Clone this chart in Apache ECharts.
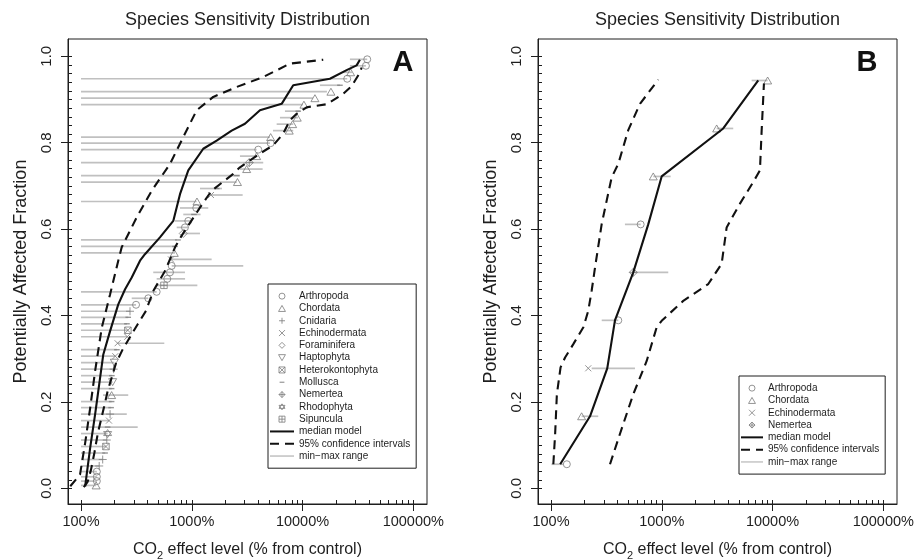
<!DOCTYPE html>
<html><head><meta charset="utf-8">
<script src="https://cdn.jsdelivr.net/npm/echarts@6/dist/echarts.min.js"></script>
<style>html,body{margin:0;padding:0;background:#fff}#c{width:924px;height:560px}</style>
</head><body><div id="c"></div>
<script>
// ---------------- data ----------------
const xTickValues = [100, 1000, 10000, 100000];
const xTickLabels = ['100%', '1000%', '10000%', '100000%'];
const yTickValues = [0, 0.2, 0.4, 0.6, 0.8, 1.0];
const yTickLabels = ['0.0', '0.2', '0.4', '0.6', '0.8', '1.0'];

const phylumCodes = ['Art','Cho','Cni','Ech','For','Hap','Het','Mol','Nem','Rho','Sip'];
const phylumNames = ['Arthropoda','Chordata','Cnidaria','Echinodermata','Foraminifera','Haptophyta','Heterokontophyta','Mollusca','Nemertea','Rhodophyta','Sipuncula'];

// Panel A : species points (effect level %, affected fraction, phylum, min %, max %)
const aEffect = [137,139,139,139,146,157,165,168,171,174,
  174,179,183,187,189,189,189,193,190,197,
  200,204,211,214,262,265,260,267,277,314,
  405,482,561,601,636,659,649,695,706,751,
  838,868,930,1047,1098,1114,1491,1678,2585,2543,
  3130,3304,3853,3983,5154,5154,7586,8140,8958,9147,
  10294,12940,18046,21759,25322,27168,37345,38369];
const aFraction = [0.007,0.017,0.027,0.039,0.052,0.067,0.082,0.097,0.112,0.127,
  0.142,0.157,0.172,0.187,0.201,0.216,0.231,0.246,0.261,0.276,
  0.291,0.306,0.321,0.336,0.351,0.366,0.381,0.396,0.410,0.425,
  0.440,0.455,0.470,0.485,0.500,0.515,0.530,0.545,0.560,0.575,
  0.590,0.604,0.619,0.634,0.649,0.664,0.679,0.694,0.709,0.724,
  0.739,0.754,0.769,0.784,0.799,0.813,0.828,0.843,0.858,0.873,
  0.888,0.903,0.918,0.933,0.948,0.963,0.978,0.993];
const aPhylum = ['Cho','Art','Art','Art','Cni','Cni','Mol','Het','Cni','Rho',
  'Mol','Ech','Cni','Mol','Mol','Cho','Mol','Hap','Mol','Cni',
  'Hap','Ech','Mol','Ech','Ech','Het','Mol','Mol','Cni','Art',
  'Art','Art','Sip','Art','Art','Art','Ech','Cho','Mol','Mol',
  'For','Art','Art','Mol','Art','Cho','Ech','Mol','Cho','Mol',
  'Cho','Nem','Cho','Art','Art','Cho','Cho','Cho','Cho','Mol',
  'Cho','Cho','Cho','Mol','Art','Cho','Art','Art'];
const aMin = [100,100,100,100,100,100,100,100,100,100,
  100,100,100,100,100,158,100,100,100,100,
  100,100,100,214,100,100,100,100,100,100,
  287,100,482,482,449,659,649,100,100,100,
  838,731,706,838,783,100,1512,1186,100,100,
  2723,100,2723,100,100,100,5407,5840,6252,6938,
  100,100,100,14355,100,23148,26776,26776];
const aMax = [137,139,139,139,146,157,165,168,171,174,
  325,179,259,187,189,267,189,193,190,197,
  200,204,211,565,262,265,260,267,277,314,
  405,482,1123,870,868,2916,1512,706,706,731,
  1186,930,1000,1200,1409,1107,2880,1873,2543,2723,
  4363,4418,3853,3853,5080,5080,8242,8242,9090,9474,
  10083,12413,16608,21759,25322,27916,37345,38369];

// Panel A : model curves
const aMedianEffect = [109,121,134,146,159,183,217,250,287,341,378,516,681,783,930,1270,1678,2291,3021,4126,6478,8242,17675,25000,30780,32960];
const aMedianFraction = [0.005,0.094,0.171,0.241,0.310,0.364,0.426,0.461,0.488,0.527,0.542,0.581,0.619,0.681,0.736,0.786,0.805,0.828,0.844,0.875,0.890,0.933,0.948,0.968,0.979,0.992];
const aCiLowEffect = [80,98,109,121,134,154,183,217,233,318,435,636,838,1107,1563,2543,4418,7696,15377];
const aCiLowFraction = [0.005,0.032,0.105,0.186,0.271,0.372,0.449,0.527,0.558,0.627,0.689,0.751,0.813,0.875,0.906,0.929,0.952,0.983,0.992];
const aCiHighEffect = [106,115,123,132,142,162,174,207,238,325,386,449,573,706,811,1186,1512,2369,2723,4126,5439,6695,7696,8847,10890,16500,23300,27730,32960,34160];
const aCiHighFraction = [0.003,0.016,0.043,0.082,0.128,0.190,0.225,0.290,0.322,0.380,0.411,0.457,0.503,0.558,0.585,0.650,0.689,0.728,0.743,0.775,0.794,0.821,0.852,0.867,0.882,0.889,0.913,0.931,0.962,0.974];

// Panel B
const bEffect = [139,189,217,405,553,645,838,3130,9032];
const bFraction = [0.056,0.167,0.278,0.389,0.500,0.611,0.722,0.833,0.944];
const bPhylum = ['Art','Cho','Ech','Art','Nem','Art','Cho','Cho','Cho'];
const bMin = [101,189,233,287,553,465,838,3130,6478];
const bMax = [130,267,573,405,1145,645,1203,4418,9032];
const bMedianEffect = [121,225,322,378,553,755,998,3589,7430];
const bMedianFraction = [0.056,0.167,0.278,0.389,0.500,0.611,0.722,0.833,0.944];
const bCiLowEffect = [105,109,113,122,134,159,196,217,233,250,287,353,405,498,636,930];
const bCiLowFraction = [0.056,0.126,0.218,0.280,0.303,0.334,0.373,0.411,0.458,0.512,0.612,0.720,0.751,0.829,0.890,0.946];
const bCiHighEffect = [341,419,553,731,900,998,1563,2628,3472,3853,5080,6695,7696,7974,8363];
const bCiHighFraction = [0.056,0.126,0.218,0.295,0.373,0.388,0.434,0.473,0.520,0.604,0.659,0.709,0.736,0.828,0.937];

const legendA = ['Arthropoda','Chordata','Cnidaria','Echinodermata','Foraminifera','Haptophyta','Heterokontophyta','Mollusca','Nemertea','Rhodophyta','Sipuncula'];
const legendB = ['Arthropoda','Chordata','Echinodermata','Nemertea'];

// ---------------- styling ----------------
const FONT = '"Liberation Sans", Arial, Helvetica, sans-serif';
const INK = '#1e1e1e';
const POINT = '#7a7a7a';
const RANGE = '#c0c0c0';
const X_MIN = 1.8827, X_MAX = 5.1236;   // log10 extent of the plot box
const Y_MIN = -0.036, Y_MAX = 1.04;

const SYMBOLS = {
  Arthropoda: {path:'M0,5A5,5,0,1,1,10,5A5,5,0,1,1,0,5Z', fill:false, size:7},
  Chordata: {path:'M5,0L10,8.7L0,8.7Z', fill:false, size:8},
  Cnidaria: {path:'M5,0L5,10M0,5L10,5', fill:false, size:8},
  Echinodermata: {path:'M0,0L10,10M10,0L0,10', fill:false, size:6},
  Foraminifera: {path:'M5,0L10,5L5,10L0,5Z', fill:false, size:8},
  Haptophyta: {path:'M0,0L10,0L5,8.7Z', fill:false, size:8},
  Heterokontophyta: {path:'M0,0L10,0L10,10L0,10ZM0,0L10,10M10,0L0,10', fill:false, size:6.5},
  Mollusca: {path:'M0,0M10,10M1,4L9,4L9,6L1,6Z', fill:true, size:7},
  Nemertea: {path:'M5,0L10,5L5,10L0,5ZM5,0L5,10M0,5L10,5', fill:false, size:8},
  Rhodophyta: {path:'M5,0L10,7.5L0,7.5ZM5,10L0,2.5L10,2.5Z', fill:false, size:8},
  Sipuncula: {path:'M0,0L10,0L10,10L0,10ZM5,0L5,10M0,5L10,5', fill:false, size:6.5}
};

const log = Math.log10;
const xMinor = [];
for (let n = 2; n <= 4; n++) for (let k = 1; k <= 9; k++) xMinor.push(log(k * Math.pow(10, n)));
xMinor.push(5);
const yMinor = [];
for (let i = 0; i <= 50; i++) yMinor.push(+(i * 0.02).toFixed(2));

function xLabel(v) {
  for (let i = 0; i < xTickValues.length; i++) if (Math.abs(log(xTickValues[i]) - v) < 1e-6) return xTickLabels[i];
  return '';
}
function yLabel(v) {
  for (let i = 0; i < yTickValues.length; i++) if (Math.abs(yTickValues[i] - v) < 1e-6) return yTickLabels[i];
  return '';
}

const grids = [
  {left:68, top:39, width:359, height:465},
  {left:538, top:39, width:359, height:465}
].map(g => Object.assign(g, {show:true, borderColor:INK, borderWidth:1, backgroundColor:'transparent', containLabel:false, outerBoundsMode:'none'}));

const xAxes = [], yAxes = [];
[0, 1].forEach(gi => {
  xAxes.push({
    gridIndex:gi, type:'value', min:X_MIN, max:X_MAX, position:'bottom',
    axisLine:{show:true, onZero:false, lineStyle:{color:INK, width:1}},
    splitLine:{show:false},
    axisTick:{show:true, customValues:xTickValues.map(log), length:7, lineStyle:{color:INK, width:1}},
    axisLabel:{show:true, customValues:xTickValues.map(log), margin:10, fontSize:14.5, color:INK, fontFamily:FONT, formatter:xLabel},
    name:'{a|CO}{s|2}{a| effect level (% from control)}', nameLocation:'middle', nameGap:35,
    nameTextStyle:{color:INK, fontFamily:FONT, rich:{
      a:{fontSize:16, color:INK, fontFamily:FONT, lineHeight:22, verticalAlign:'middle'},
      s:{fontSize:11, color:INK, fontFamily:FONT, lineHeight:12, verticalAlign:'bottom'}}}
  });
  xAxes.push({
    gridIndex:gi, type:'value', min:X_MIN, max:X_MAX, position:'bottom',
    axisLine:{show:false, onZero:false}, splitLine:{show:false},
    axisTick:{show:true, inside:true, customValues:xMinor, length:4, lineStyle:{color:INK, width:1}},
    axisLabel:{show:false}
  });
  yAxes.push({
    gridIndex:gi, type:'value', min:Y_MIN, max:Y_MAX, position:'left',
    axisLine:{show:true, onZero:false, lineStyle:{color:INK, width:1}},
    splitLine:{show:false},
    axisTick:{show:true, customValues:yTickValues, length:7, lineStyle:{color:INK, width:1}},
    axisLabel:{show:true, customValues:yTickValues, rotate:90, margin:14, fontSize:15, color:INK, fontFamily:FONT, formatter:yLabel},
    name:'Potentially Affected Fraction', nameLocation:'middle', nameGap:38,
    nameTextStyle:{fontSize:18, color:INK, fontFamily:FONT}
  });
  yAxes.push({
    gridIndex:gi, type:'value', min:Y_MIN, max:Y_MAX, position:'left',
    axisLine:{show:false, onZero:false}, splitLine:{show:false},
    axisTick:{show:true, inside:true, customValues:yMinor, length:4, lineStyle:{color:INK, width:1}},
    axisLabel:{show:false}
  });
});

function rangeSeries(ax, fr, mins, maxs) {
  return {
    type:'custom', name:'min\u2212max range', xAxisIndex:ax, yAxisIndex:ax, z:1, silent:true,
    itemStyle:{color:RANGE},
    encode:{x:[0,1], y:2},
    data: fr.map((y, i) => [log(mins[i]), log(maxs[i]), y]),
    renderItem: (params, api) => {
      const p1 = api.coord([api.value(0), api.value(2)]);
      const p2 = api.coord([api.value(1), api.value(2)]);
      return {type:'line', shape:{x1:p1[0], y1:p1[1], x2:p2[0], y2:p2[1]}, style:{stroke:RANGE, lineWidth:1.7}};
    }
  };
}
function scatterSeries(ax, eff, fr, groups) {
  const out = [];
  phylumCodes.forEach((code, k) => {
    const name = phylumNames[k];
    const pts = [];
    eff.forEach((e, i) => { if (groups[i] === code) pts.push([log(e), fr[i]]); });
    if (!pts.length) return;
    const s = SYMBOLS[name];
    out.push({
      type:'scatter', name, xAxisIndex:ax, yAxisIndex:ax, z:2, silent:true,
      symbol:'path://' + s.path, symbolSize:s.size, symbolKeepAspect:true,
      itemStyle: s.fill ? {color:POINT, borderWidth:0} : {color:'transparent', borderColor:POINT, borderWidth:1},
      data: pts
    });
  });
  return out;
}
function curve(ax, name, eff, fr, dashed) {
  return {
    type:'line', name, xAxisIndex:ax, yAxisIndex:ax, z:3, silent:true, symbol:'none', clip:false,
    lineStyle:{color:'#111', width:2.1, type: dashed ? [9, 6] : 'solid'},
    itemStyle:{color:'transparent', borderColor:'transparent', borderWidth:0},
    data: eff.map((e, i) => [log(e), fr[i]])
  };
}

const series = [
  rangeSeries(0, aFraction, aMin, aMax),
  ...scatterSeries(0, aEffect, aFraction, aPhylum),
  curve(0, 'median model', aMedianEffect, aMedianFraction, false),
  curve(0, '95% confidence intervals', aCiLowEffect, aCiLowFraction, true),
  curve(0, '95% confidence intervals', aCiHighEffect, aCiHighFraction, true),
  rangeSeries(2, bFraction, bMin, bMax),
  ...scatterSeries(2, bEffect, bFraction, bPhylum),
  curve(2, 'median model', bMedianEffect, bMedianFraction, false),
  curve(2, '95% confidence intervals', bCiLowEffect, bCiLowFraction, true),
  curve(2, '95% confidence intervals', bCiHighEffect, bCiHighFraction, true)
];

const hiddenSymbol = {color:'transparent', borderColor:'transparent', borderWidth:0};
function legendCfg(left, top, names, iconW) {
  return {
    orient:'vertical', left, top, padding:[6, 6, 6, 1], itemGap:0, itemWidth:iconW, itemHeight:6,
    borderColor:INK, borderWidth:1, borderRadius:0, backgroundColor:'#fff', selectedMode:false,
    symbolKeepAspect:true, itemStyle:{borderWidth:1},
    textStyle:{fontSize:10, lineHeight:12.3, color:INK, fontFamily:FONT, padding:[0,0,0,0]},
    data: [...names,
      {name:'median model', itemStyle:hiddenSymbol},
      {name:'95% confidence intervals', itemStyle:hiddenSymbol},
      {name:'min\u2212max range', icon:'path://M0,0L24,0L24,1.5L0,1.5Z'}]
  };
}

const option = {
  animation:false,
  backgroundColor:'#fff',
  grid: grids,
  xAxis: xAxes,
  yAxis: yAxes,
  legend: [legendCfg(268, 284, legendA, 24), legendCfg(739, 376, legendB, 22)],
  graphic: [
    {type:'text', x:247.5, y:20, style:{text:'Species Sensitivity Distribution', fontSize:18, fontFamily:FONT, fill:INK, align:'center', verticalAlign:'middle'}},
    {type:'text', x:717.5, y:20, style:{text:'Species Sensitivity Distribution', fontSize:18, fontFamily:FONT, fill:INK, align:'center', verticalAlign:'middle'}},
    {type:'text', x:403, y:63, style:{text:'A', fontSize:29, fontWeight:'bold', fontFamily:FONT, fill:'#111', align:'center', verticalAlign:'middle'}},
    {type:'text', x:867, y:63, style:{text:'B', fontSize:29, fontWeight:'bold', fontFamily:FONT, fill:'#111', align:'center', verticalAlign:'middle'}}
  ],
  series
};
const chart = echarts.init(document.getElementById('c'), null, {renderer:'canvas'});
chart.setOption(option);
</script>
</body></html>
